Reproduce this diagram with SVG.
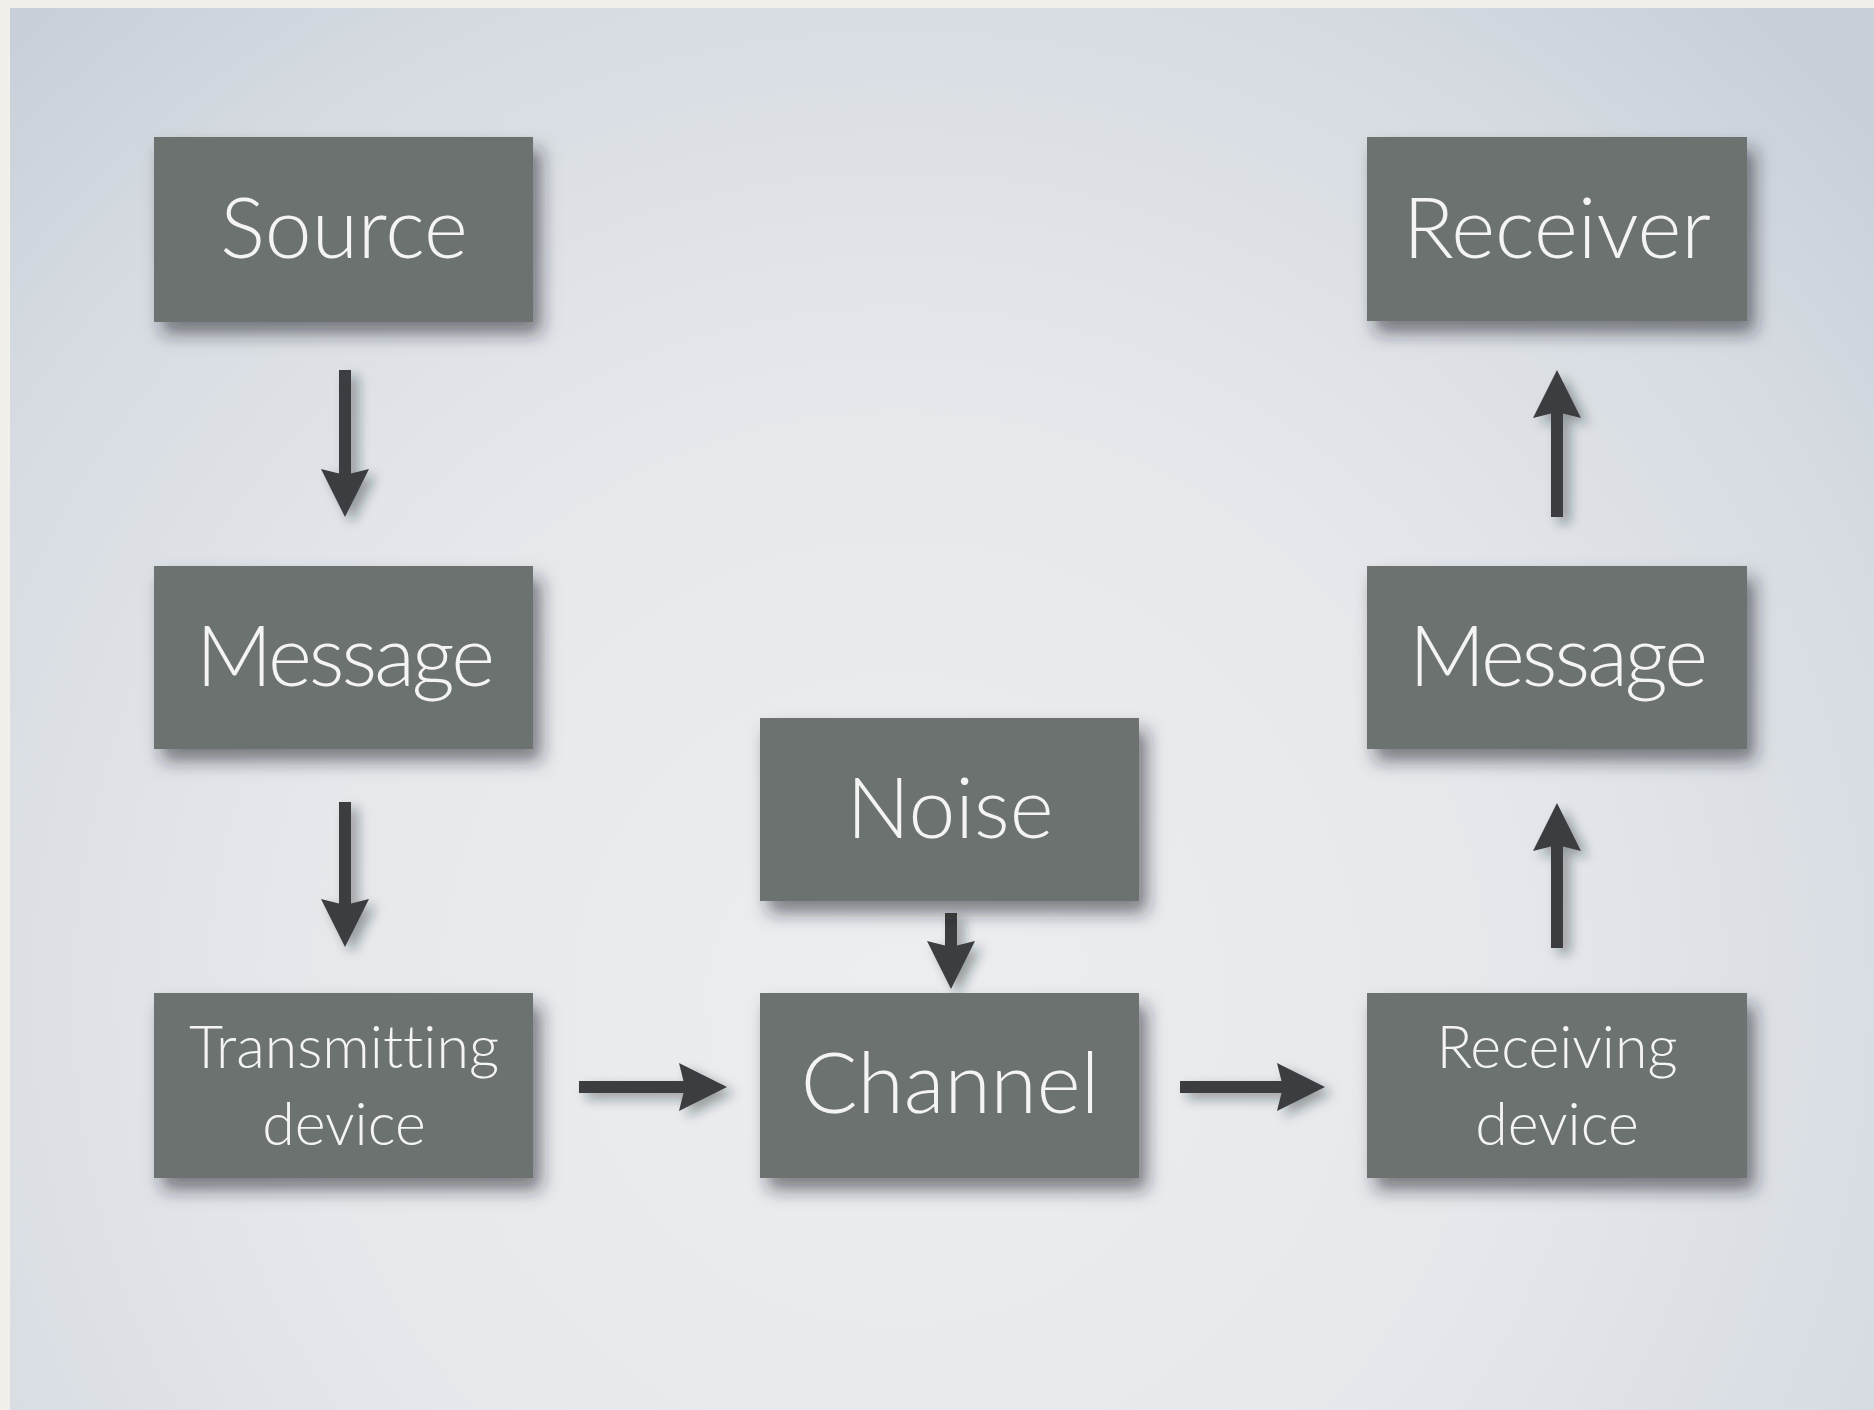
<svg xmlns="http://www.w3.org/2000/svg" width="1874" height="1410" viewBox="0 0 1874 1410">
  <style>
    .box { fill: #6c7270; }
    .lbl { font-family: Lato, "Open Sans", "Liberation Sans", sans-serif; font-weight: 300; fill: #f4f5f3; text-anchor: middle; font-variant-ligatures: none; }
    .big { font-size: 84px; }
    .small { font-size: 59px; }
    .tight { letter-spacing: -3px; }
    .conn { stroke: #3b3d3f; stroke-width: 12; fill: none; marker-end: url(#head); }
  </style>
  <defs>
    <radialGradient id="bg" cx="900" cy="1000" r="1300" gradientUnits="userSpaceOnUse">
      <stop offset="0" stop-color="#eceef1"/>
      <stop offset="0.45" stop-color="#e6e8ec"/>
      <stop offset="0.8" stop-color="#d7dce2"/>
      <stop offset="1" stop-color="#c9d0d9"/>
    </radialGradient>
    <filter id="shadow" x="-10%" y="-15%" width="135%" height="150%">
      <feDropShadow dx="8" dy="12" stdDeviation="9" flood-color="#1e2225" flood-opacity="0.55"/>
    </filter>
    <filter id="ashadow" x="-20%" y="-20%" width="160%" height="160%">
      <feDropShadow dx="7" dy="6" stdDeviation="6" flood-color="#1e2225" flood-opacity="0.4"/>
    </filter>
    <marker id="head" viewBox="0 0 48 48" markerWidth="48" markerHeight="48" markerUnits="userSpaceOnUse" refX="8" refY="24" orient="auto">
      <path d="M0,0 L48,24 L0,48 L6,24 Z" fill="#3b3d3f"/>
    </marker>
  </defs>

  <rect x="0" y="0" width="1874" height="1410" fill="#f1f0ea"/>
  <rect x="10" y="8" width="1864" height="1402" fill="url(#bg)"/>

  <g id="connectors" filter="url(#ashadow)">
    <line class="conn" x1="345" y1="370" x2="345" y2="477"/>
    <line class="conn" x1="345" y1="802" x2="345" y2="907"/>
    <line class="conn" x1="951" y1="913" x2="951" y2="949"/>
    <line class="conn" x1="579" y1="1087" x2="687" y2="1087"/>
    <line class="conn" x1="1180" y1="1087" x2="1285" y2="1087"/>
    <line class="conn" x1="1557" y1="948" x2="1557" y2="843"/>
    <line class="conn" x1="1557" y1="517" x2="1557" y2="410"/>
  </g>

  <g id="source">
    <rect class="box" x="154" y="137" width="379" height="185" filter="url(#shadow)"/>
    <text class="lbl big" x="344" y="258">Source</text>
  </g>
  <g id="message-left">
    <rect class="box" x="154" y="566" width="379" height="183" filter="url(#shadow)"/>
    <text class="lbl big tight" x="344" y="686">Message</text>
  </g>
  <g id="transmitting-device">
    <rect class="box" x="154" y="993" width="379" height="185" filter="url(#shadow)"/>
    <text class="lbl small" x="344" y="1068">Transmitting</text>
    <text class="lbl small" x="344" y="1145">device</text>
  </g>
  <g id="noise">
    <rect class="box" x="760" y="718" width="379" height="183" filter="url(#shadow)"/>
    <text class="lbl big" x="950" y="838">Noise</text>
  </g>
  <g id="channel">
    <rect class="box" x="760" y="993" width="379" height="185" filter="url(#shadow)"/>
    <text class="lbl big" x="950" y="1113">Channel</text>
  </g>
  <g id="receiver">
    <rect class="box" x="1367" y="137" width="380" height="184" filter="url(#shadow)"/>
    <text class="lbl big" x="1557" y="258">Receiver</text>
  </g>
  <g id="message-right">
    <rect class="box" x="1367" y="566" width="380" height="183" filter="url(#shadow)"/>
    <text class="lbl big tight" x="1557" y="686">Message</text>
  </g>
  <g id="receiving-device">
    <rect class="box" x="1367" y="993" width="380" height="185" filter="url(#shadow)"/>
    <text class="lbl small" x="1557" y="1068">Receiving</text>
    <text class="lbl small" x="1557" y="1145">device</text>
  </g>
</svg>
